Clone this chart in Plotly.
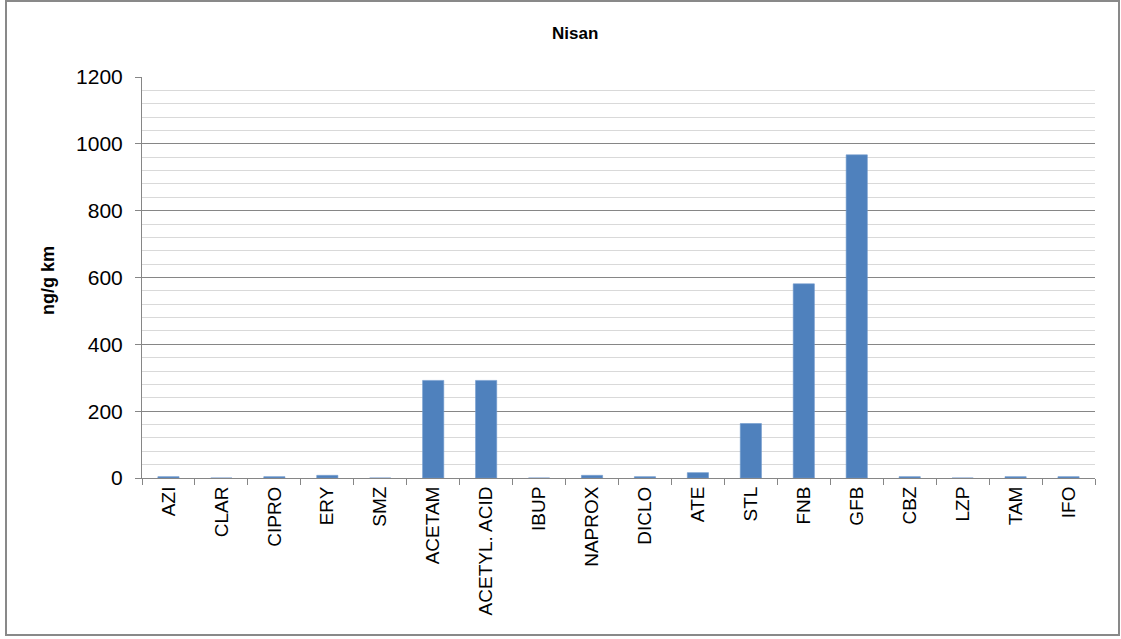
import plotly.graph_objects as go

# Monthly concentrations (April) per compound, ng/g km
categories = ["AZI", "CLAR", "CIPRO", "ERY", "SMZ", "ACETAM", "ACETYL. ACID", "IBUP",
              "NAPROX", "DICLO", "ATE", "STL", "FNB", "GFB", "CBZ", "LZP", "TAM", "IFO"]
values = [4, 0, 4, 8, 0, 292, 292, 0, 8, 4, 16, 163, 581, 967, 4, 0, 4, 4]

y_ticks = [0, 200, 400, 600, 800, 1000, 1200]

FONT = "Liberation Sans"
W, H = 1121, 639
L, R, T, B = 142, 26, 77, 161

fig = go.Figure(
    go.Bar(
        x=categories,
        y=values,
        marker=dict(color="#4F81BD", line=dict(color="#6f98cc", width=0.6)),
        hoverinfo="x+y",
    )
)

plot_w = W - L - R
plot_h = H - T - B

def px_to_paper_x(px):
    return (px - L) / plot_w

def px_to_paper_y(py):
    return (H - B - py) / plot_h

fig.update_layout(
    width=W,
    height=H,
    margin=dict(l=L, r=R, t=T, b=B, pad=0),
    paper_bgcolor="white",
    plot_bgcolor="white",
    bargap=0.6,
    showlegend=False,
    font=dict(family=FONT, size=19, color="#000000"),
    xaxis=dict(
        type="category",
        tickangle=-90,
        ticks="outside",
        tickson="boundaries",
        ticklen=6,
        tickcolor="#868686",
        showline=True,
        linecolor="#868686",
        linewidth=1,
        showgrid=False,
        tickfont=dict(family=FONT, size=19, color="#000000"),
    ),
    yaxis=dict(
        range=[0, 1200],
        tickvals=y_ticks,
        ticks="outside",
        ticklen=6,
        tickcolor="#868686",
        ticklabelstandoff=8,
        showline=True,
        linecolor="#868686",
        linewidth=1,
        showgrid=True,
        gridcolor="#868686",
        gridwidth=1,
        zeroline=False,
        tickfont=dict(family=FONT, size=21, color="#000000"),
        minor=dict(dtick=40, showgrid=True, gridcolor="#d9d9d9", gridwidth=1),
    ),
    shapes=[
        dict(
            type="rect",
            xref="paper",
            yref="paper",
            x0=px_to_paper_x(6),
            x1=px_to_paper_x(1119),
            y0=px_to_paper_y(635),
            y1=px_to_paper_y(1),
            line=dict(color="#898989", width=2),
            fillcolor="rgba(0,0,0,0)",
            layer="below",
        )
    ],
    annotations=[
        dict(
            text="<b>Nisan</b>",
            xref="paper",
            yref="paper",
            x=px_to_paper_x(575),
            y=px_to_paper_y(34),
            xanchor="center",
            yanchor="middle",
            showarrow=False,
            font=dict(family=FONT, size=17, color="#000000"),
        ),
        dict(
            text="<b>ng/g km</b>",
            xref="paper",
            yref="paper",
            x=px_to_paper_x(48),
            y=px_to_paper_y(281),
            xanchor="center",
            yanchor="middle",
            textangle=-90,
            showarrow=False,
            font=dict(family=FONT, size=18, color="#000000"),
        ),
    ],
)

fig.write_html("out.html")
